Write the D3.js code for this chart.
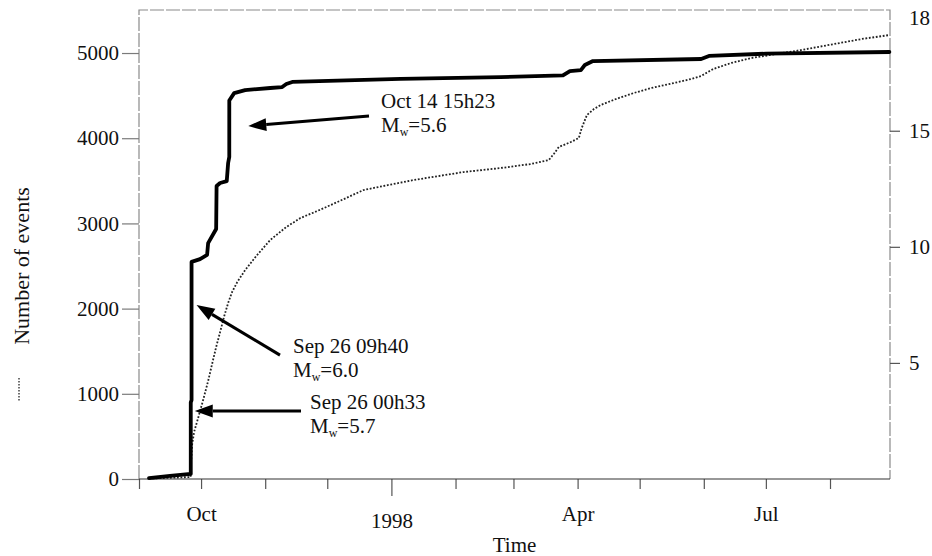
<!DOCTYPE html>
<html>
<head>
<meta charset="utf-8">
<script src="https://cdn.jsdelivr.net/npm/d3@7"></script>
<style>
  body { margin: 0; background: #fff; }
  svg { display: block; }
  text { font-family: "Liberation Serif", "Times New Roman", "DejaVu Serif", serif; fill: #111; }
</style>
</head>
<body>
<svg id="chart" width="932" height="556"></svg>
<script>
// Cumulative number of events (left axis, dotted curve)
const countTimes = [
  "1997-09-05T20:00","1997-09-25T22:30","1997-09-26T04:20","1997-09-26T16:00","1997-09-27T15:00",
  "1997-09-29T14:00","1997-10-02T00:00","1997-10-04T10:00","1997-10-06T08:00","1997-10-08T07:00",
  "1997-10-10T05:00","1997-10-12T05:00","1997-10-14T02:00","1997-10-16T00:00","1997-10-18T12:00",
  "1997-10-22T08:00","1997-10-27T16:00","1997-11-03T10:00","1997-11-11T05:00","1997-11-18T00:00",
  "1997-11-26T05:00","1997-12-05T22:00","1997-12-18T12:00","1997-12-30T14:00","1998-01-11T17:00",
  "1998-01-23T19:00","1998-02-04T22:00","1998-02-22T19:00","1998-03-09T07:00","1998-03-18T02:00",
  "1998-03-20T12:00","1998-03-22T22:00","1998-03-28T17:00","1998-04-01T14:00","1998-04-03T00:00",
  "1998-04-05T12:00","1998-04-08T22:00","1998-04-12T05:00","1998-04-19T12:00","1998-04-28T05:00",
  "1998-05-06T12:00","1998-05-17T15:00","1998-05-25T19:00","1998-05-30T17:00","1998-06-05T12:00",
  "1998-06-14T05:00","1998-06-23T22:00","1998-07-06T00:00","1998-07-18T02:00","1998-08-03T02:00",
  "1998-08-16T05:00","1998-08-29T17:00"
];
const countValues = [
  6, 23, 200, 400, 552,
  716, 927, 1150, 1350, 1549,
  1725, 1913, 2066, 2195, 2312,
  2453, 2617, 2805, 2958, 3063,
  3146, 3251, 3392, 3451, 3509,
  3556, 3603, 3650, 3697, 3744,
  3815, 3897, 3955, 4002, 4120,
  4272, 4343, 4390, 4460, 4531,
  4589, 4648, 4695, 4730, 4812,
  4883, 4941, 4988, 5035, 5106,
  5164, 5211
];

// Cumulative release curve (right axis, solid line)
const cumTimes = [
  "1997-09-05T20:00","1997-09-16T00:00","1997-09-26T00:32","1997-09-26T00:34","1997-09-26T09:39",
  "1997-09-26T09:41","1997-09-30T12:00","1997-10-03T22:00","1997-10-04T10:00","1997-10-08T07:00",
  "1997-10-08T12:00","1997-10-10T05:00","1997-10-13T10:00","1997-10-14T02:00","1997-10-14T15:22",
  "1997-10-14T15:24","1997-10-17T00:00","1997-10-22T07:00","1997-11-03T10:00","1997-11-09T05:00",
  "1997-11-11T05:00","1997-11-14T02:00","1998-01-05T10:00","1998-02-22T19:00","1998-03-24T22:00",
  "1998-03-28T07:00","1998-04-02T14:00","1998-04-04T12:00","1998-04-08T10:00","1998-05-30T17:00",
  "1998-06-03T12:00","1998-07-01T02:00","1998-08-29T17:00"
];
const cumValues = [
  0.04, 0.13, 0.22, 3.3, 3.4,
  9.35, 9.47, 9.65, 10.16, 10.77,
  12.62, 12.75, 12.83, 13.61, 13.87,
  16.3, 16.62, 16.75, 16.84, 16.88,
  17.01, 17.1, 17.23, 17.31, 17.38,
  17.57, 17.61, 17.83, 18.0, 18.09,
  18.22, 18.32, 18.39
];

// Axis ticks
const leftTicks = [0, 1000, 2000, 3000, 4000, 5000];
const rightTicks = [5, 10, 15];
const rightTopLabel = "18";
const monthLabels = { "1997-10": "Oct", "1998-01": "1998", "1998-04": "Apr", "1998-07": "Jul" };

// Annotated main shocks
const shockTimes = ["1997-09-26T00:33", "1997-09-26T09:40", "1997-10-14T15:23"];
const shockLabels = ["Sep 26 00h33", "Sep 26 09h40", "Oct 14 15h23"];
const shockMw = ["5.7", "6.0", "5.6"];
const shockArrowLevel = [2.93, 7.49, 15.2];   // right-axis value the arrow points at

const FONT = '"Liberation Serif", "Times New Roman", "DejaVu Serif", serif';
const parse = d3.timeParse("%Y-%m-%dT%H:%M");
const monthKey = d3.timeFormat("%Y-%m");

const svg = d3.select("#chart");
const plot = { left: 139, right: 890, top: 10, bottom: 479 };

const x = d3.scaleTime()
  .domain([new Date(1997, 8, 1), new Date(1998, 7, 30)])
  .range([plot.left, plot.right]);
const yL = d3.scaleLinear().domain([0, 5505]).range([plot.bottom, plot.top]);
const yR = d3.scaleLinear().domain([0, 20.2]).range([plot.bottom, plot.top]);

// Frame
svg.append("path")
  .attr("d", `M${plot.left},${plot.bottom}V${plot.top}H${plot.right}V${plot.bottom}`)
  .attr("fill", "none").attr("stroke", "#8a8a8a").attr("stroke-width", 1.2)
  .attr("stroke-dasharray", "14,2");

function styleTicks(g) {
  g.attr("font-family", FONT).attr("font-size", 21);
  g.select(".domain").remove();
  g.selectAll(".tick text").attr("fill", "#111").style("font-family", FONT);
}

// Left axis
const gL = svg.append("g").attr("transform", `translate(${plot.left},0)`)
  .call(d3.axisLeft(yL).tickValues(leftTicks).tickSize(17).tickPadding(3).tickFormat(d3.format("d")));
styleTicks(gL);
gL.selectAll(".tick line").attr("stroke", "#7a7a7a").attr("stroke-width", 1.2);

// Right axis
const gR = svg.append("g").attr("transform", `translate(${plot.right},0)`)
  .call(d3.axisRight(yR).tickValues(rightTicks).tickSize(10).tickPadding(9));
styleTicks(gR);
gR.selectAll(".tick line").attr("stroke", "#555").attr("stroke-width", 1.2);
gR.append("text")
  .attr("x", 19).attr("y", plot.top).attr("dy", "0.71em")
  .attr("text-anchor", "start").attr("fill", "#111")
  .text(rightTopLabel);

// Bottom axis: monthly ticks, longer tick at the new year
const months = d3.timeMonth.range(new Date(1997, 8, 1), x.domain()[1]);
const gB = svg.append("g").attr("transform", `translate(0,${plot.bottom})`)
  .call(d3.axisBottom(x).tickValues(months).tickSize(10).tickPadding(17)
    .tickFormat(d => monthLabels[monthKey(d)] || ""));
styleTicks(gB);
gB.selectAll(".tick line").attr("stroke", "#555").attr("stroke-width", 1.2)
  .filter(d => d.getMonth() === 0).attr("y2", 17);
gB.selectAll(".tick text")
  .filter(d => d.getMonth() === 0).attr("y", 34);
svg.append("line")
  .attr("x1", plot.left).attr("x2", plot.right)
  .attr("y1", plot.bottom).attr("y2", plot.bottom)
  .attr("stroke", "#333").attr("stroke-width", 1.2);

// Axis titles
svg.append("text")
  .attr("transform", `translate(29,266) rotate(-90)`)
  .attr("text-anchor", "middle").attr("font-size", 22)
  .text("Number of events");
svg.append("line")
  .attr("x1", 19).attr("x2", 19).attr("y1", 378).attr("y2", 402)
  .attr("stroke", "#333").attr("stroke-width", 1.4).attr("stroke-dasharray", "1.4,1.6");
svg.append("text")
  .attr("x", (plot.left + plot.right) / 2).attr("y", 552)
  .attr("text-anchor", "middle").attr("font-size", 21)
  .text("Time");

// Dotted: number of events
const countData = countTimes.map((t, i) => ({ t: parse(t), v: countValues[i] }));
svg.append("path")
  .datum(countData)
  .attr("fill", "none").attr("stroke", "#222").attr("stroke-width", 1.8)
  .attr("stroke-dasharray", "1.8,1.7")
  .attr("d", d3.line().x(d => x(d.t)).y(d => yL(d.v)));

// Solid: cumulative curve
const cumData = cumTimes.map((t, i) => ({ t: parse(t), v: cumValues[i] }));
svg.append("path")
  .datum(cumData)
  .attr("fill", "none").attr("stroke", "#000").attr("stroke-width", 3.8)
  .attr("stroke-linejoin", "round").attr("stroke-linecap", "round")
  .attr("d", d3.line().x(d => x(d.t)).y(d => yR(d.v)));

// Annotation arrows and labels
const annLayout = [
  { gap: 4, tailX: 301, tailDy: 0, textX: 310, textY: 409 },
  { gap: 5, tailX: 280, tailDy: 50, textX: 293, textY: 353 },
  { gap: 19, tailX: 369, tailDy: -10, textX: 381, textY: 108 }
];
const headLen = 18, headHalf = 6.5;
shockTimes.forEach((t, i) => {
  const L = annLayout[i];
  const tipX = x(parse(t)) + L.gap;
  const tipY = yR(shockArrowLevel[i]);
  const tailX = L.tailX, tailY = tipY + L.tailDy;
  const ang = Math.atan2(tailY - tipY, tailX - tipX);
  const bx = tipX + headLen * Math.cos(ang), by = tipY + headLen * Math.sin(ang);
  const px = -Math.sin(ang) * headHalf, py = Math.cos(ang) * headHalf;
  svg.append("line")
    .attr("x1", tailX).attr("y1", tailY).attr("x2", bx).attr("y2", by)
    .attr("stroke", "#000").attr("stroke-width", 3);
  svg.append("polygon")
    .attr("points", `${tipX},${tipY} ${bx + px},${by + py} ${bx - px},${by - py}`)
    .attr("fill", "#000");

  svg.append("text").attr("x", L.textX).attr("y", L.textY).attr("font-size", 21)
    .text(shockLabels[i]);
  const m = svg.append("text").attr("x", L.textX).attr("y", L.textY + 24).attr("font-size", 21);
  m.append("tspan").text("M");
  m.append("tspan").attr("font-size", 12).attr("dy", 4).text("w");
  m.append("tspan").attr("dy", -4).text("=" + shockMw[i]);
});
</script>
</body>
</html>
